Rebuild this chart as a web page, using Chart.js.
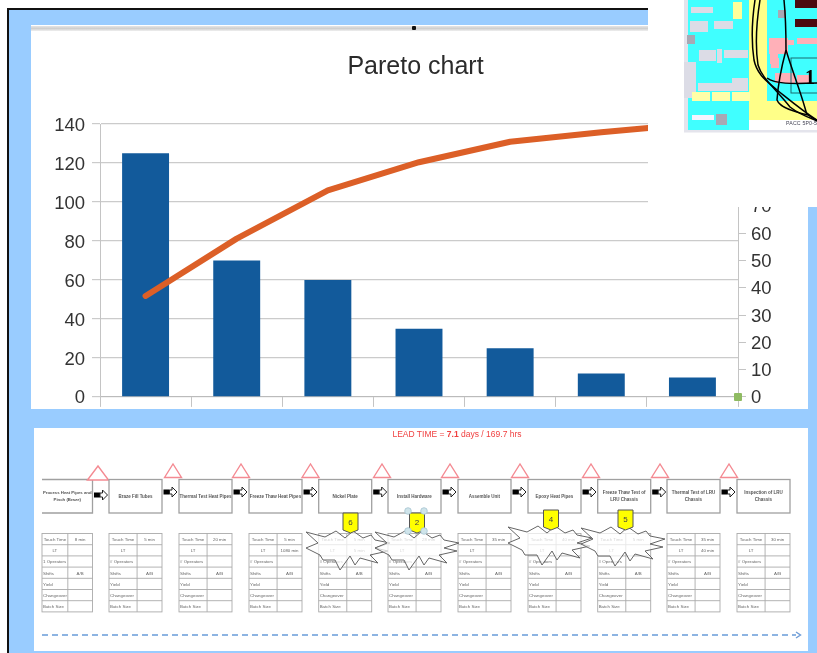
<!DOCTYPE html>
<html><head><meta charset="utf-8"><title>Pareto chart</title>
<script src="https://cdn.jsdelivr.net/npm/chart.js@4"></script>
<style>
html,body{margin:0;padding:0;background:#fff;overflow:hidden}
#page{position:relative;width:817px;height:653px;overflow:hidden;background:#fff}
.abs{position:absolute}
#blue{left:8px;top:9px;width:809px;height:644px;background:#99ccff}
#frameL{left:7px;top:8px;width:1.5px;height:645px;background:#111}
#frameT{left:7px;top:8px;width:641px;height:1.5px;background:#111}
#panel{left:31px;top:25px;width:777px;height:384px;background:#fff}
#band{left:31px;top:26px;width:617px;height:5px;background:linear-gradient(#e4e4e4,#cfcfcf 50%,#efefef);filter:blur(.5px)}
#dot{left:412px;top:26px;width:4px;height:4px;background:#111;border-radius:1px}
#chartWrap{left:31px;top:31px;width:769px;height:384px}
canvas{display:block;filter:blur(.55px)}
#mask{left:648px;top:0;width:169px;height:207px;background:#fff}
#green{left:734px;top:393px;width:8px;height:8px;background:#8fbb62;border:0;border-radius:1px;filter:blur(.4px)}
#low{left:34px;top:428px;width:774px;height:223px;background:#fff}
svg{position:absolute;left:0;top:0}
svg text{font-family:"Liberation Sans",Arial,sans-serif}
</style></head><body>
<div id="page">
 <div class="abs" id="blue"></div><div class="abs" id="frameL"></div><div class="abs" id="frameT"></div>
 <div class="abs" id="panel"></div><div class="abs" id="band"></div><div class="abs" id="dot"></div>
 <div class="abs" id="chartWrap"><canvas id="c" width="769" height="384"></canvas></div>
 <div class="abs" id="green"></div>
 <div class="abs" id="mask"></div>
 <div class="abs" id="low"></div>
 <svg id="inset" width="817" height="653" style="filter:blur(.6px)"></svg>
 <svg id="vsm" width="817" height="653" style="filter:blur(.6px)"></svg>
</div>
<script>
// Chart data
const categories = ['1','2','3','4','5','6','7'];
const barValues = [125, 70, 60, 35, 25, 12, 10];
const cumulativePercent = [37, 58, 75.7, 86, 93.5, 97, 100];
const leftTicks = [0,20,40,60,80,100,120,140];
const rightTicks = [0,10,20,30,40,50,60,70,80,90,100];

// Process map text
const processNames = [['Process Heat Pipes and','Pinch (Braze)'],['Braze Fill Tubes'],['Thermal Test Heat Pipes'],['Freeze Thaw Heat Pipes'],['Nickel Plate'],['Install Hardware'],['Assemble Unit'],['Epoxy Heat Pipes'],['Freeze Thaw Test of','LRU Chassis'],['Thermal Test of LRU','Chassis'],['Inspection of LRU','Chassis']];
const touchTimes = ['8 min','5 min','20 min','5 min','5 min','28 min','35 min','40 min','5 min','35 min','30 min'];
const leadValues = ['','','','1080 min','5 min','','','','','40 min',''];
const rowLabels = ['Touch Time','LT','# Operators','Shifts','Yield','Changeover','Batch Size'];

const fixed = (w)=>(s)=>{s.width=w;};
new Chart(document.getElementById('c'),{
  data:{labels:categories,datasets:[
    {type:'line',data:cumulativePercent,yAxisID:'y1',order:0,borderColor:'#dc5f27',borderWidth:6,pointRadius:0,tension:0,borderCapStyle:'round',borderJoinStyle:'round'},
    {type:'bar',data:barValues,yAxisID:'y',order:1,backgroundColor:'#125a9b',categoryPercentage:1,barPercentage:.515}
  ]},
  options:{responsive:false,animation:false,
    layout:{padding:0},
    plugins:{legend:{display:false},tooltip:{enabled:false},
      title:{display:true,text:'Pareto chart',color:'#2b2b2b',font:{family:'"Liberation Sans"',size:25,weight:'normal'},padding:{top:21,bottom:42}}},
    scales:{
      x:{offset:true,afterFit:s=>{s.height=12;},ticks:{display:false},border:{color:'#bbb'},
         grid:{drawOnChartArea:false,drawTicks:true,tickLength:10,color:'#c4c4c4',offset:true}},
      y:{position:'left',min:0,max:140,afterFit:fixed(69),
         afterBuildTicks:s=>{s.ticks=leftTicks.map(v=>({value:v}));},
         ticks:{color:'#333',padding:7,labelOffset:1.5,font:{family:'"Liberation Sans"',size:18.5}},
         border:{color:'#c4c4c4'},grid:{color:'#cbcbcb',tickLength:8,lineWidth:1.2}},
      y1:{position:'right',min:0,max:100,afterFit:fixed(62),
         afterBuildTicks:s=>{s.ticks=rightTicks.map(v=>({value:v}));},
         ticks:{color:'#333',padding:5,labelOffset:1.5,font:{family:'"Liberation Sans"',size:18.5}},
         border:{color:'#c4c4c4'},grid:{drawOnChartArea:false,color:'#c4c4c4',tickLength:8}}
    }}
});

const NS='http://www.w3.org/2000/svg';
function el(parent,tag,attrs,text){const e=document.createElementNS(NS,tag);for(const k in attrs)e.setAttribute(k,attrs[k]);if(text!==undefined)e.textContent=text;parent.appendChild(e);return e;}

// Inset picture, top right
const I=document.getElementById('inset');
const R=(x,y,w,h,f)=>el(I,'rect',{x,y,width:w,height:h,fill:f});
R(684,0,133,132.5,'#e4e4ec');
R(688,0,61,130,'#40ffff');
R(749,120,68,10,'#ffffff');
R(749,0,68,120,'#ffff88');
R(767,0,50,101,'#40ffff');
[[691,7,22,6],[690,21,18,11],[714,21,19,8],[699,50,17,11],[717,49,5,14],[724,50,24,8],[698,83,18,8],[716,83,18,8],[732,78,16,13],[684,62,12,36]].forEach(r=>R(r[0],r[1],r[2],r[3],'#dcdce6'));
[[692,92,18,9],[712,92,18,9],[732,92,18,9]].forEach(r=>R(r[0],r[1],r[2],r[3],'#ffffa8'));
R(692,115,22,5,'#f4f4ff');
[[716,114,11,11],[687,35,8,9],[778,10,8,8]].forEach(r=>R(r[0],r[1],r[2],r[3],'#a8a8b4'));
R(733,2,9,17,'#ffff99');
R(795,0,22,8,'#4b0a10');R(795,19,22,8,'#4b0a10');
[[769,38,10,16],[778,38,10,16],[770,48,8,16],[771,58,8,10],[797,38,20,6],[786,40,8,5],[775,73,20,10],[797,75,12,8]].forEach(r=>R(r[0],r[1],r[2],r[3],'#ffb0b8'));
el(I,'rect',{x:791,y:58,width:30,height:35,fill:'none',stroke:'#1b6a70','stroke-width':1});
el(I,'text',{x:805,y:84,'font-size':20,'font-weight':'bold',fill:'#000',style:'font-family:"Liberation Serif"'},'1');
el(I,'text',{x:786,y:125,'font-size':5.2,fill:'#445',textLength:31},'PACC 5P0-5');
[['M755 0C752 20 751 40 754 60C757 75 768 82 777 90C792 102 805 113 820 122'],
 ['M760 0C756 25 755 45 758 65C762 78 772 85 790 107C800 115 810 118 820 122'],
 ['M784 0C786 20 786 40 786 50C782 65 778 85 777 100C780 108 795 112 808 115C812 118 816 120 820 122'],
 ['M786 50C792 70 800 90 805 108L807 115'],
 ['M767 78C775 84 790 84 820 83']].forEach(p=>el(I,'path',{d:p[0],fill:'none',stroke:'#000','stroke-width':1.5}));

// Process map, bottom
const V=document.getElementById('vsm');
const gray='#a0a0a0';
el(V,'text',{x:457,y:437,'text-anchor':'middle','font-size':8.5,fill:'#f04040'}).innerHTML='LEAD TIME = <tspan font-weight="bold">7.1</tspan> days / 169.7 hrs';
const lefts=[40,109,179,249,318.7,388,458,528,597.7,667,737];
const triX=[98,173,241,310.5,382,450,520,591,660,729,0];
lefts.forEach((x,i)=>{
  const w=i==0?52.5:53;
  if(i==0){el(V,'path',{d:`M42 479.5H${x+w}V513H42`,fill:'#fff',stroke:gray,'stroke-width':1.3});}
  else el(V,'rect',{x,y:479.5,width:w,height:33.5,fill:'#fff',stroke:gray,'stroke-width':1.3});
  const names=processNames[i];
  names.forEach((t,k)=>el(V,'text',{x:x+w/2+(i==0?1:0),y:(names.length==1?498:494)+k*6.5,'text-anchor':'middle','font-size':i==0?4.3:4.5,'font-weight':'bold',fill:'#555'},t));
  // data table
  const tx=i==0?42:x,tw=i==0?50.5:w,ty=533.5,rh=11.2;
  el(V,'rect',{x:tx,y:ty,width:tw,height:rh*7,fill:'#fff',stroke:'#aaa','stroke-width':.9});
  for(let r=1;r<7;r++)el(V,'line',{x1:tx,x2:tx+tw,y1:ty+r*rh,y2:ty+r*rh,stroke:'#aaa','stroke-width':.9});
  const sp=x+w*.53;
  el(V,'line',{x1:sp,x2:sp,y1:ty,y2:ty+rh*7,stroke:'#aaa','stroke-width':.9});
  rowLabels.forEach((lab,r)=>{
    const label=(i==0&&r==2)?'1 Operators':lab;
    const cx=(r<2);
    el(V,'text',{x:cx?(tx+sp)/2:tx+1,y:ty+r*rh+7.5,'text-anchor':cx?'middle':'start','font-size':4.4,fill:'#666'},label);
  });
  const valX=(sp+tx+tw)/2;
  el(V,'text',{x:valX,y:ty+7.5,'text-anchor':'middle','font-size':4.4,fill:'#666'},touchTimes[i]);
  if(leadValues[i])el(V,'text',{x:valX,y:ty+rh+7.5,'text-anchor':'middle','font-size':4.4,fill:'#666'},leadValues[i]);
  el(V,'text',{x:valX,y:ty+3*rh+7.5,'text-anchor':'middle','font-size':4.4,fill:'#666'},'A/B');
  // inventory triangle
  if(triX[i]){
    const big=i==0;const hw=big?10.5:8.5,top=big?466:464,bot=big?480:477.5;
    el(V,'path',{d:`M${triX[i]-hw} ${bot}L${triX[i]} ${top}L${triX[i]+hw} ${bot}Z`,fill:'#fff',stroke:'#f48a92','stroke-width':1.4});
  }
  // push arrow
  if(i<10){
    const ax=x+w+1.5,ay=i==0?495:492;
    el(V,'rect',{x:ax,y:ay-2.5,width:6,height:5,fill:'#000'});
    el(V,'path',{d:`M${ax+6} ${ay-2}h2.5v-3l5 5l-5 5v-3h-2.5z`,fill:'#fff',stroke:'#222','stroke-width':1});
  }
});
// kaizen bursts
const burst=[[-42,-16],[-23,-11],[-12,-17],[-3,-10],[5,-17],[15,-10],[23,-13],[27,-8],[42,-5],[27,0],[40,3],[22,7],[30,15],[12,10],[7,17],[2,8],[-8,22],[-13,12],[-25,12],[-28,7],[-42,0],[-30,-5]];
[[348,548],[417,548],[550,543],[623,544]].forEach(c=>{
  el(V,'polygon',{points:burst.map(p=>(c[0]+p[0])+','+(c[1]+p[1])).join(' '),fill:'rgba(255,255,255,.72)',stroke:'#666','stroke-width':1});
});
// yellow flags
[[350.5,513,'6'],[417,513,'2'],[551,510,'4'],[625.5,510,'5']].forEach(f=>{
  const x=f[0],y=f[1];
  el(V,'path',{d:`M${x-7.5} ${y}h15v17l-7.5 3l-7.5 -3z`,fill:'#ffff00',stroke:'#555','stroke-width':1});
  el(V,'text',{x,y:y+11.5,'text-anchor':'middle','font-size':8,fill:'#444'},f[2]);
});
[[408,511],[424,511],[408,531],[424,531]].forEach(p=>el(V,'circle',{cx:p[0],cy:p[1],r:3.3,fill:'#cfe4ea',stroke:'#a6c4d0','stroke-width':.8}));
// dashed flow arrow
el(V,'line',{x1:42,x2:796,y1:635,y2:635,stroke:'#8db4e2','stroke-width':1.8,'stroke-dasharray':'6 4'});
el(V,'path',{d:'M796 632L800.5 635L796 638',fill:'none',stroke:'#6f9cd6','stroke-width':1.4});
</script>
</body></html>
